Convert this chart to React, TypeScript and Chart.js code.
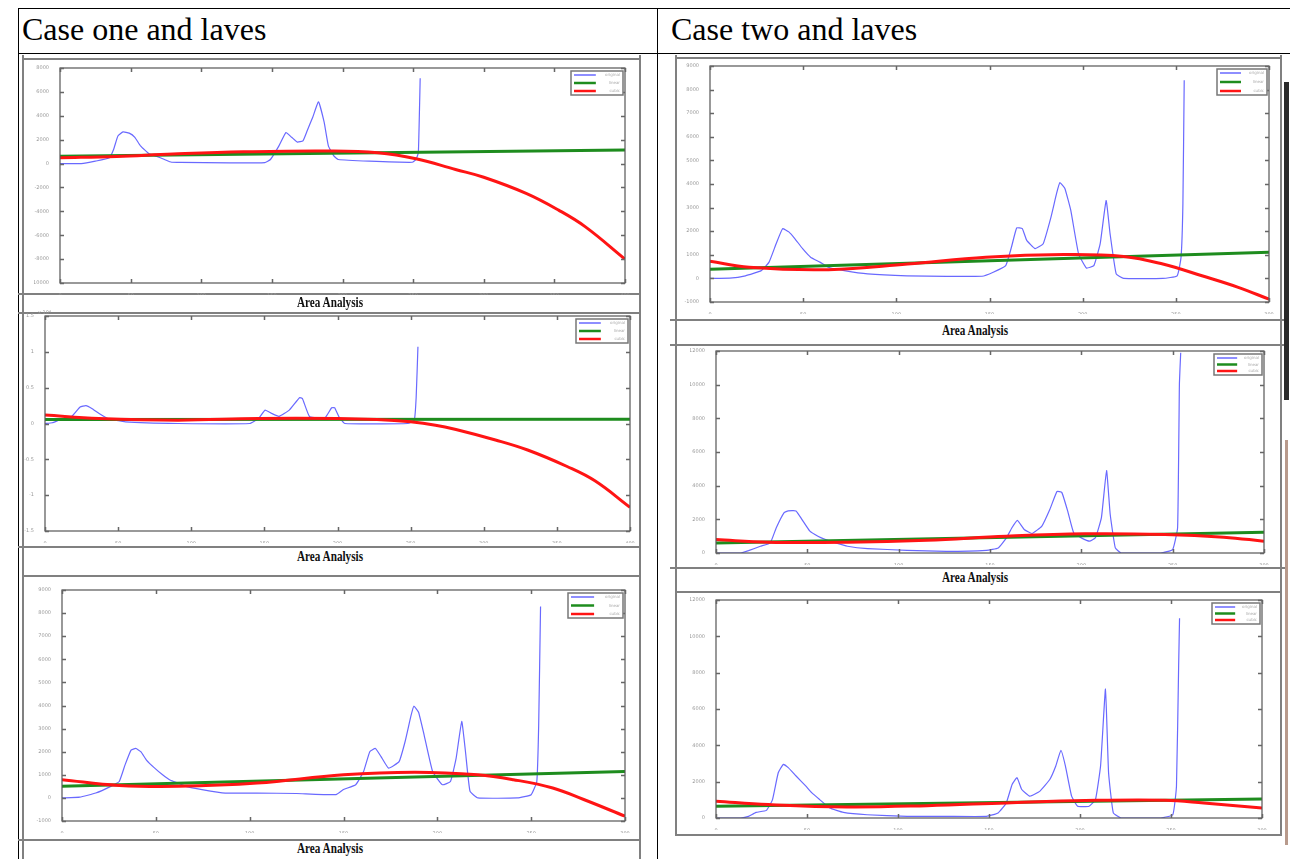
import React, { useEffect, useRef } from "react";
import { Chart, registerables } from "chart.js";

Chart.register(...registerables);

type Pt = [number, number];

// ---------- legend labels ----------
const seriesLabels = ["original", "linear", "cubic"];
const headerTitles = ["Case one and laves", "Case two and laves"];
const captionText = "Area Analysis";

// ---------- Case one, panel 1 ----------
const c1Signal: Pt[] = [
  [0, 0], [15, 0], [25, 200], [35, 480], [38, 1200], [41, 2300], [44.6, 2650], [49, 2550], [53, 2200],
  [57, 1480], [63, 820], [68, 620], [74, 340], [79, 110], [85, 100], [120, 50], [145, 80], [149, 340],
  [155, 1480], [160, 2600], [164, 2200], [168, 1800], [172, 1900], [175, 2750], [179, 3900], [183, 5170],
  [187, 3460], [190, 1480], [194, 620], [197, 340], [219, 200], [249.5, 110], [252, 340], [253.7, 900],
  [255, 7150],
];
const c1Linear: Pt[] = [[0, 620], [400, 1140]];
const c1Cubic: Pt[] = [
  [0, 480], [40, 600], [80, 800], [130, 980], [190, 1050], [225, 900], [252, 400], [280, -500],
  [300, -1150], [330, -2500], [353, -3900], [372, -5300], [400, -8000],
];

// ---------- Case one, panel 2 (x10^4) ----------
const c2Signal: Pt[] = [
  [0, 0], [5, 0.01], [10, 0.05], [18, 0.093], [24, 0.23], [28, 0.25], [32, 0.21], [37, 0.14], [43, 0.07],
  [55, 0.023], [91, 0], [140, 0], [146, 0.07], [150.5, 0.187], [155, 0.14], [160, 0.1], [167, 0.187],
  [174, 0.36], [176, 0.35], [181, 0.093], [191.6, 0.084], [196, 0.22], [198, 0.22], [201, 0.093],
  [205, 0], [248, 0], [252.5, 0.047], [253.8, 0.37], [255, 1.07],
];
const c2Linear: Pt[] = [[0, 0.055], [400, 0.06]];
const c2Cubic: Pt[] = [
  [0, 0.117], [37, 0.07], [91, 0.047], [146, 0.07], [200, 0.07], [227, 0.056], [250, 0.023],
  [267, -0.023], [281, -0.084], [308, -0.23], [330, -0.37], [357, -0.6], [376, -0.8], [400, -1.17],
];

// ---------- Case one, panel 3 ----------
const c3Signal: Pt[] = [
  [0, 0], [9.5, 30], [18, 210], [26, 500], [30.5, 710], [33.6, 1430], [36.8, 2070], [39.3, 2140],
  [42, 2000], [45, 1640], [49.4, 1290], [53.6, 1000], [57.8, 760], [62, 640], [66, 500], [74.6, 360],
  [87, 210], [104, 210], [125, 190], [146, 140], [150, 360], [156.5, 570], [160.7, 1140], [164, 2000],
  [167, 2140], [170, 1790], [174, 1290], [179.6, 1570], [182.8, 2430], [186, 3570], [187.5, 3970],
  [190, 3710], [193, 2710], [197.5, 1140], [202.7, 570], [207, 710], [210, 1710], [213, 3310],
  [215, 2000], [217.4, 290], [221.6, 0], [242.6, 0], [250, 140], [253, 710], [254, 3140], [255, 8290],
];
const c3Linear: Pt[] = [[0, 500], [300, 1140]];
const c3Cubic: Pt[] = [
  [0, 790], [30.5, 540], [62, 500], [104, 640], [150, 1000], [188, 1110], [221.6, 1000], [240.5, 790],
  [261.5, 430], [278, -70], [300, -790],
];

// ---------- Case two, panel 1 ----------
const c4Signal: Pt[] = [
  [0, 0], [10.6, 10], [19, 110], [27.5, 330], [31.7, 690], [35.5, 1470], [39, 2110], [42.3, 1970],
  [45.5, 1690], [49.7, 1260], [54, 900], [59, 690], [63.5, 470], [72, 330], [84.6, 190], [105.8, 110],
  [127, 90], [146, 90], [152, 260], [158.7, 540], [161.8, 1330], [164.6, 2140], [167.6, 2110], [170, 1610],
  [174.5, 1260], [178.8, 1470], [183, 2600], [186, 3600], [187.8, 4060], [190.4, 3820], [193.6, 2890],
  [197.8, 1040], [202, 440], [206, 540], [209.4, 1470], [212.6, 3300], [214.7, 1900], [218, 190],
  [222, 0], [243, 0], [250.7, 110], [252.8, 900], [253.8, 3190], [254.5, 8400],
];
const c4Linear: Pt[] = [[0, 385], [300, 1110]];
const c4Cubic: Pt[] = [
  [0, 730], [21, 470], [63.5, 370], [106, 610], [148, 900], [190, 1010], [222, 930], [243, 610],
  [264, 110], [283.5, -380], [300, -880],
];

// ---------- Case two, panel 2 ----------
const c5Signal: Pt[] = [
  [0, 0], [13.5, 0], [17.8, 140], [24.3, 400], [29.7, 600], [33, 1500], [37.3, 2400], [39.5, 2500],
  [43.8, 2500], [47, 2000], [51.4, 1300], [55.8, 1000], [60, 800], [65.5, 600], [72, 400], [83, 260],
  [104.6, 160], [126, 100], [148, 160], [154.5, 300], [159, 900], [162, 1500], [165, 1940], [168.7, 1400],
  [173, 1160], [178.4, 1600], [182.8, 2600], [186.7, 3660], [189.3, 3600], [192.5, 2500], [195.8, 1200],
  [200, 900], [204.5, 700], [207.7, 900], [211, 2100], [213.8, 4900], [215.8, 2300], [218.6, 300],
  [221.8, 0], [243.5, 0], [250, 200], [252.7, 1500], [253.7, 10100], [254.4, 11900],
];
const c5Linear: Pt[] = [[0, 600], [300, 1240]];
const c5Cubic: Pt[] = [
  [0, 800], [28.7, 640], [72, 640], [115.5, 760], [159, 1000], [202, 1140], [245.7, 1100], [278, 940],
  [300, 700],
];

// ---------- Case two, panel 3 ----------
const c6Signal: Pt[] = [
  [0, 0], [13.5, 0], [17.9, 90], [22, 310], [27.7, 420], [31, 1000], [34.2, 2490], [37, 2950],
  [39.7, 2770], [44, 2310], [49.4, 1750], [52.7, 1380], [57, 1010], [62.5, 550], [70, 310], [83, 180],
  [105, 90], [126.8, 90], [148.6, 90], [155, 280], [159.5, 830], [162.7, 1850], [165.4, 2220], [168, 1570],
  [172.5, 1200], [178, 1480], [183.4, 2120], [186.7, 2860], [189.5, 3730], [192, 2860], [195.4, 1200],
  [198.7, 650], [205, 650], [208.5, 1010], [211.3, 2860], [214, 7100], [215.7, 2490], [218.3, 280],
  [222.6, 0], [244.4, 0], [251, 180], [253, 1750], [254.2, 8400], [254.7, 11000],
];
const c6Linear: Pt[] = [[0, 650], [300, 1050]];
const c6Cubic: Pt[] = [
  [0, 920], [28.8, 740], [72, 610], [116, 680], [159.5, 830], [203, 960], [246.6, 980], [268, 830],
  [300, 550],
];

// ---------- axis ranges ----------
const xRanges = [400, 400, 300, 300, 300, 300];
const yRanges: [number, number, number][] = [
  [-10000, 8000, 2000],
  [-1.5, 1.5, 0.5],
  [-1000, 9000, 1000],
  [-1000, 9000, 1000],
  [0, 12000, 2000],
  [0, 12000, 2000],
];

type Box = { l: number; t: number; r: number; b: number };
type PanelSpec = {
  signal: Pt[];
  linear: Pt[];
  cubic: Pt[];
  xMax: number;
  y: [number, number, number];
  box: Box;
  legend: { w: number; h: number };
};

const panels: PanelSpec[] = [
  { signal: c1Signal, linear: c1Linear, cubic: c1Cubic, xMax: xRanges[0], y: yRanges[0], box: { l: 60, t: 68, r: 625, b: 283 }, legend: { w: 52, h: 24 } },
  { signal: c2Signal, linear: c2Linear, cubic: c2Cubic, xMax: xRanges[1], y: yRanges[1], box: { l: 45, t: 316, r: 630, b: 531 }, legend: { w: 52, h: 24 } },
  { signal: c3Signal, linear: c3Linear, cubic: c3Cubic, xMax: xRanges[2], y: yRanges[2], box: { l: 62, t: 590, r: 625, b: 821 }, legend: { w: 55, h: 25 } },
  { signal: c4Signal, linear: c4Linear, cubic: c4Cubic, xMax: xRanges[3], y: yRanges[3], box: { l: 710, t: 66, r: 1269, b: 302 }, legend: { w: 50, h: 26 } },
  { signal: c5Signal, linear: c5Linear, cubic: c5Cubic, xMax: xRanges[4], y: yRanges[4], box: { l: 716, t: 351, r: 1264, b: 553 }, legend: { w: 48, h: 21 } },
  { signal: c6Signal, linear: c6Linear, cubic: c6Cubic, xMax: xRanges[5], y: yRanges[5], box: { l: 716, t: 600, r: 1262, b: 818 }, legend: { w: 48, h: 21 } },
];

// ---------- plugins ----------
const frameTicks = {
  id: "frameTicks",
  afterDatasetsDraw(chart: any) {
    const { ctx, chartArea: a, scales } = chart;
    ctx.save();
    ctx.strokeStyle = "#555";
    ctx.lineWidth = 1.2;
    ctx.strokeRect(a.left, a.top, a.right - a.left, a.bottom - a.top);
    ctx.lineWidth = 1.5;
    ctx.strokeStyle = "#666";
    const xs = scales.x;
    const ys = scales.y;
    xs.ticks.forEach((_t: any, i: number) => {
      const px = Math.round(xs.getPixelForTick(i)) + 0.5;
      ctx.beginPath();
      ctx.moveTo(px, a.bottom);
      ctx.lineTo(px, a.bottom - 4);
      ctx.moveTo(px, a.top);
      ctx.lineTo(px, a.top + 4);
      ctx.stroke();
    });
    ys.ticks.forEach((_t: any, i: number) => {
      const py = Math.round(ys.getPixelForTick(i)) + 0.5;
      ctx.beginPath();
      ctx.moveTo(a.left, py);
      ctx.lineTo(a.left + 4, py);
      ctx.moveTo(a.right, py);
      ctx.lineTo(a.right - 4, py);
      ctx.stroke();
    });
    ctx.restore();
  },
};

const miniLegend = {
  id: "miniLegend",
  afterDraw(chart: any, _args: any, opts: any) {
    const a = chart.chartArea;
    const ctx = chart.ctx;
    const w = opts.w || 52;
    const h = opts.h || 24;
    const x = a.right - w - 2;
    const y = a.top + 3;
    ctx.save();
    ctx.fillStyle = "#fff";
    ctx.fillRect(x, y, w, h);
    ctx.strokeStyle = "#777";
    ctx.lineWidth = 1.5;
    ctx.strokeRect(x, y, w, h);
    const n = chart.data.datasets.length;
    chart.data.datasets.forEach((ds: any, i: number) => {
      const ly = y + 4 + (i * (h - 8)) / (n - 1);
      ctx.strokeStyle = ds.borderColor;
      ctx.lineWidth = i === 0 ? 1.5 : 2.5;
      ctx.beginPath();
      ctx.moveTo(x + 3, ly);
      ctx.lineTo(x + 3 + w * 0.42, ly);
      ctx.stroke();
      ctx.fillStyle = "#aaa";
      ctx.font = "4px 'DejaVu Sans'";
      ctx.textAlign = "right";
      ctx.textBaseline = "middle";
      ctx.fillText(ds.label, x + w - 3, ly);
    });
    ctx.restore();
  },
};

const Y_AXIS_W = 26;
const X_AXIS_H = 12;
const PAD_TOP = 6;
const PAD_RIGHT = 8;

function fmt(v: number) {
  return String(Number(v.toFixed(3)));
}

function Panel({ spec }: { spec: PanelSpec }) {
  const ref = useRef<HTMLCanvasElement>(null);
  const left = spec.box.l - Y_AXIS_W;
  const top = spec.box.t - PAD_TOP;
  const width = spec.box.r - left + PAD_RIGHT;
  const height = spec.box.b - top + X_AXIS_H;

  useEffect(() => {
    if (!ref.current) return;
    const toXY = (arr: Pt[]) => arr.map(([x, y]) => ({ x, y }));
    const chart = new Chart(ref.current, {
      type: "line",
      data: {
        datasets: [
          { label: seriesLabels[0], data: toXY(spec.signal), borderColor: "rgb(105,105,255)", borderWidth: 1.2, tension: 0.12, order: 3 },
          { label: seriesLabels[1], data: toXY(spec.linear), borderColor: "rgb(30,140,30)", borderWidth: 3, order: 2 },
          { label: seriesLabels[2], data: toXY(spec.cubic), borderColor: "rgb(255,20,20)", borderWidth: 3, tension: 0.4, order: 1 },
        ],
      },
      options: {
        animation: false,
        responsive: false,
        events: [],
        layout: { padding: { top: PAD_TOP, right: PAD_RIGHT, left: 0, bottom: 0 } },
        elements: { point: { radius: 0 } },
        plugins: {
          legend: { display: false },
          tooltip: { enabled: false },
          miniLegend: spec.legend,
        } as any,
        scales: {
          x: {
            type: "linear",
            min: 0,
            max: spec.xMax,
            ticks: { stepSize: 50, font: { size: 5, family: "DejaVu Sans" }, color: "#999", padding: 2, maxRotation: 0, autoSkip: false, callback: (v: any) => fmt(Number(v)) },
            grid: { display: false },
            border: { display: false },
            afterFit: (s: any) => { s.height = X_AXIS_H; },
          },
          y: {
            type: "linear",
            min: spec.y[0],
            max: spec.y[1],
            ticks: { stepSize: spec.y[2], font: { size: 5, family: "DejaVu Sans" }, color: "#999", padding: 3, autoSkip: false, callback: (v: any) => fmt(Number(v)) },
            grid: { display: false },
            border: { display: false },
            afterFit: (s: any) => { s.width = Y_AXIS_W; },
          },
        },
      } as any,
      plugins: [frameTicks, miniLegend],
    });
    return () => chart.destroy();
  }, [spec]);

  return (
    <canvas
      ref={ref}
      width={width}
      height={height}
      style={{ position: "absolute", left, top, width, height }}
    />
  );
}

function HLine({ x1, x2, y, color = "#000", w = 1 }: { x1: number; x2: number; y: number; color?: string; w?: number }) {
  return <div style={{ position: "absolute", left: x1, top: y, width: x2 - x1, height: w, background: color }} />;
}
function VLine({ x, y1, y2, color = "#000", w = 1 }: { x: number; y1: number; y2: number; color?: string; w?: number }) {
  return <div style={{ position: "absolute", left: x, top: y1, width: w, height: y2 - y1, background: color }} />;
}

function Caption({ cx, cy }: { cx: number; cy: number }) {
  return (
    <div
      style={{
        position: "absolute",
        left: cx - 60,
        top: cy - 9,
        width: 120,
        textAlign: "center",
        fontFamily: "'Liberation Serif', serif",
        fontWeight: "bold",
        fontSize: 14,
        lineHeight: "18px",
        color: "#111",
        transform: "scaleX(0.8)",
      }}
    >
      {captionText}
    </div>
  );
}

export default function App() {
  const frame = "#808080";
  const headStyle: React.CSSProperties = {
    position: "absolute",
    top: 11,
    fontFamily: "'Liberation Serif', serif",
    fontSize: 32,
    lineHeight: "37px",
    color: "#000",
    whiteSpace: "nowrap",
  };
  return (
    <div style={{ position: "absolute", left: 0, top: 0, width: 1290, height: 859, overflow: "hidden", background: "#fff" }}>
      {/* table */}
      <HLine x1={18} x2={1290} y={8} />
      <HLine x1={18} x2={1290} y={53} />
      <VLine x={18} y1={8} y2={859} />
      <VLine x={657} y1={8} y2={859} />
      <div style={{ ...headStyle, left: 22 }}>{headerTitles[0]}</div>
      <div style={{ ...headStyle, left: 671 }}>{headerTitles[1]}</div>

      {/* left column picture frames */}
      <VLine x={22} y1={55} y2={859} color={frame} w={2} />
      <VLine x={639} y1={55} y2={859} color={frame} w={2} />
      <HLine x1={22} x2={641} y={58} color={frame} w={2} />
      <HLine x1={18} x2={641} y={293} color={frame} w={2} />
      <HLine x1={18} x2={641} y={312} color={frame} w={2} />
      <HLine x1={18} x2={641} y={546} color={frame} w={2} />
      <HLine x1={22} x2={641} y={575} color={frame} w={2} />
      <HLine x1={18} x2={641} y={839} color={frame} w={2} />

      {/* right column picture frames */}
      <VLine x={675} y1={55} y2={836} color={frame} w={2} />
      <VLine x={1280} y1={55} y2={836} color={frame} w={2} />
      <HLine x1={675} x2={1282} y={57} color={frame} w={2} />
      <HLine x1={670} x2={1285} y={319} color={frame} w={2} />
      <HLine x1={670} x2={1285} y={344} color={frame} w={2} />
      <HLine x1={670} x2={1285} y={567} color={frame} w={2} />
      <HLine x1={675} x2={1282} y={591} color={frame} w={2} />
      <HLine x1={675} x2={1282} y={834} color={frame} w={2} />

      {/* right edge strips */}
      <div style={{ position: "absolute", left: 1284, top: 82, width: 5, height: 318, background: "#2a2a2a" }} />
      <div style={{ position: "absolute", left: 1285, top: 440, width: 3, height: 405, background: "#b89a8c" }} />

      {panels.map((p, i) => (
        <Panel key={i} spec={p} />
      ))}

      <div style={{ position: "absolute", left: 38, top: 309, fontFamily: "'DejaVu Sans'", fontSize: 5, color: "#999" }}>x 10⁴</div>

      <Caption cx={330} cy={303} />
      <Caption cx={330} cy={557} />
      <Caption cx={330} cy={849} />
      <Caption cx={975} cy={331} />
      <Caption cx={975} cy={578} />
    </div>
  );
}
